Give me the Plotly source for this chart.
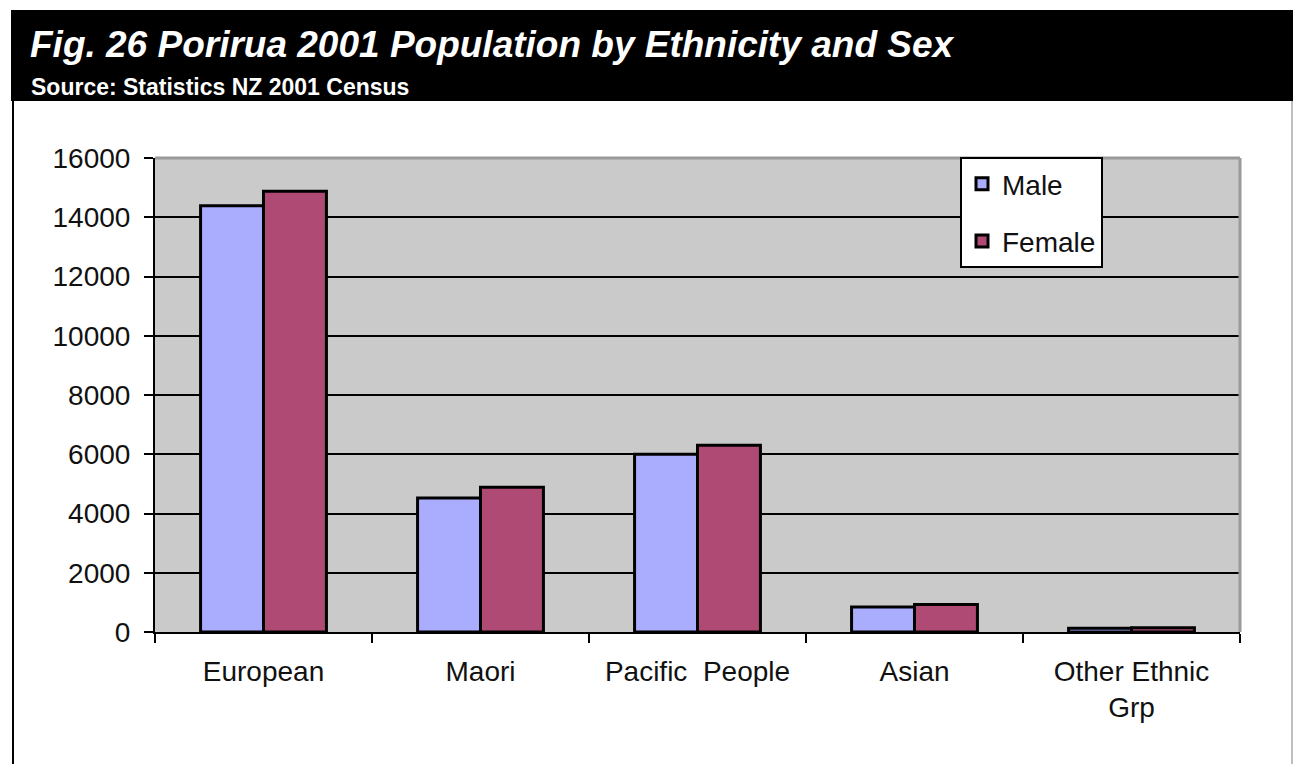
import plotly.graph_objects as go

categories = ["European", "Maori", "Pacific  People", "Asian", "Other Ethnic<br>Grp"]
male = [14390, 4520, 6000, 840, 130]
female = [14880, 4890, 6300, 930, 140]
y_ticks = [0, 2000, 4000, 6000, 8000, 10000, 12000, 14000, 16000]

W, H = 1293, 764
L, R, T, B = 155, 1240, 158, 632
pw, ph = R - L, B - T

def px(x):
    return (x - L) / pw

def py(y):
    return (B - y) / ph

FONT = "Liberation Sans, Arial, sans-serif"

fig = go.Figure()
fig.add_trace(go.Bar(x=categories, y=male, name="Male", legendgroup="m",
                     marker=dict(color="#AAACFE", line=dict(color="black", width=3))))
fig.add_trace(go.Bar(x=categories, y=female, name="Female", legendgroup="f",
                     marker=dict(color="#AE4A74", line=dict(color="black", width=3))))

shapes = [
    dict(type="rect", xref="paper", yref="paper", x0=px(11), x1=px(1300), y0=py(101), y1=py(10),
         fillcolor="black", line=dict(width=0), layer="below"),
    dict(type="line", xref="paper", yref="paper", x0=px(13), x1=px(13), y0=py(101), y1=py(770),
         line=dict(color="black", width=2)),
    dict(type="line", xref="paper", yref="paper", x0=px(1292), x1=px(1292), y0=py(101), y1=py(770),
         line=dict(color="#AAAAAA", width=1.5)),
    dict(type="line", xref="paper", yref="paper", x0=0, x1=1, y0=1, y1=1,
         line=dict(color="#9A9A9A", width=3)),
    dict(type="line", xref="paper", yref="paper", x0=1, x1=1, y0=0, y1=1,
         line=dict(color="#9A9A9A", width=3)),
]

annotations = [
    dict(text="<b><i>Fig. 26 Porirua 2001 Population by Ethnicity and Sex</i></b>",
         xref="paper", yref="paper", x=px(28), y=py(45), xanchor="left", yanchor="middle",
         showarrow=False, font=dict(family=FONT, size=37, color="white")),
    dict(text="<b>Source: Statistics NZ 2001 Census</b>",
         xref="paper", yref="paper", x=px(29), y=py(87), xanchor="left", yanchor="middle",
         showarrow=False, font=dict(family=FONT, size=23, color="white")),
]

fig.update_layout(
    width=W, height=H,
    margin=dict(l=L, r=W - R, t=T, b=H - B, pad=0),
    paper_bgcolor="white",
    plot_bgcolor="#CACACA",
    font=dict(family=FONT, size=28, color="#111111"),
    barmode="group", bargap=0.42, bargroupgap=0,
    shapes=shapes, annotations=annotations,
    legend=dict(x=px(960), y=py(157), xanchor="left", yanchor="top",
                bgcolor="white", bordercolor="black", borderwidth=2,
                font=dict(family=FONT, size=28, color="#111111"),
                tracegroupgap=18, traceorder="grouped"),
    showlegend=True,
)
fig.update_xaxes(showline=True, linecolor="black", linewidth=2,
                 ticks="outside", tickson="boundaries", ticklen=9, tickcolor="black", tickwidth=2,
                 tickfont=dict(size=28), showgrid=False, ticklabelstandoff=13)
fig.update_yaxes(range=[0, 16000], tickvals=y_ticks, ticktext=[str(v) for v in y_ticks],
                 showline=True, linecolor="black", linewidth=2,
                 ticks="outside", ticklen=9, tickcolor="black", tickwidth=2,
                 showgrid=True, gridcolor="black", gridwidth=1.5, zeroline=False,
                 tickfont=dict(size=28), ticklabelstandoff=8)

fig.write_html("out.html")
